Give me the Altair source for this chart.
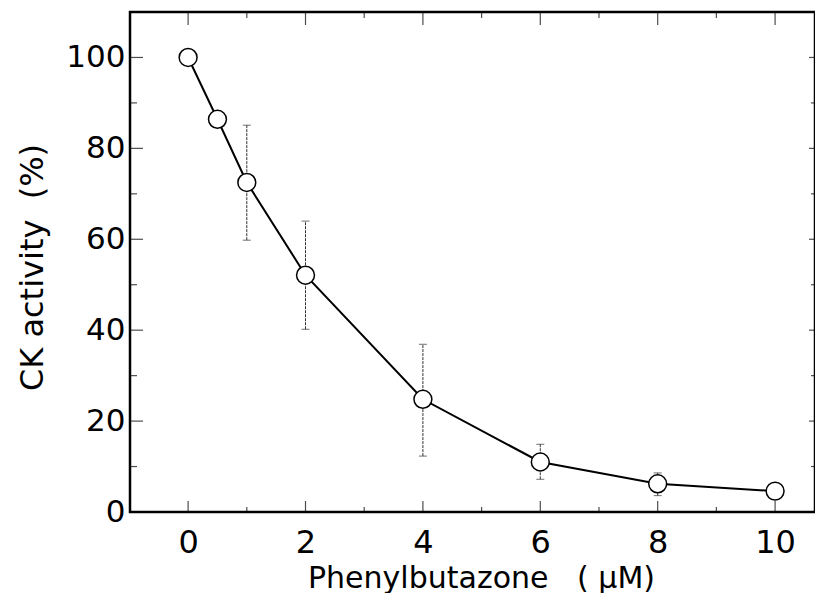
import altair as alt
import pandas as pd

# ---- data ----
conc = [0, 0.5, 1, 2, 4, 6, 8, 10]
activity = [100, 86.4, 72.5, 52.1, 24.8, 11.0, 6.2, 4.6]

err_conc = [1, 2, 4, 6, 8]
err_lo = [59.8, 40.2, 12.3, 7.2, 3.6]
err_hi = [85.1, 64.0, 36.9, 14.9, 8.6]

x_label_values = [0, 2, 4, 6, 8, 10]
x_minor_values = [1, 3, 5, 7, 9]
y_label_values = [0, 20, 40, 60, 80, 100]
y_minor_values = [10, 30, 50, 70, 90]

W, H = 685, 500
FONT = "DejaVu Sans"

df = pd.DataFrame({"conc": conc, "activity": activity})
df_err = pd.DataFrame({"conc": err_conc, "lo": err_lo, "hi": err_hi})

xscale = alt.Scale(domain=[-0.99, 10.68], nice=False, zero=False)
yscale = alt.Scale(domain=[0, 110], nice=False, zero=False)

x_axis = alt.Axis(
    values=x_label_values, format="d", ticks=False, tickSize=0, domain=False, grid=False,
    labelFont=FONT, labelFontSize=32, labelColor="black", labelBaseline="alphabetic",
    labelPadding=40, labelFlush=False,
    title="Phenylbutazone\u00a0\u00a0\u00a0(\u00a0\u03bcM)", titleFont=FONT, titleFontSize=30,
    titleFontWeight="normal", titleColor="black", titleX=351, titleY=75,
    titleBaseline="alphabetic", titleAlign="center",
)
y_axis = alt.Axis(
    values=y_label_values, format="d", ticks=False, tickSize=0, domain=False, grid=False,
    labelFont=FONT, labelFontSize=31, labelColor="black", labelPadding=5,
    labelFlush=False,
    title="CK activity\u00a0\u00a0(%)", titleFont=FONT, titleFontSize=32,
    titleFontWeight="normal", titleColor="black", titleX=-88, titleY=255,
    titleBaseline="alphabetic", titleAlign="center", titleAngle=270,
)

base = alt.Chart(df)

line = base.mark_line(color="black", strokeWidth=2).encode(
    x=alt.X("conc:Q", scale=xscale, axis=x_axis),
    y=alt.Y("activity:Q", scale=yscale, axis=y_axis),
)

errbars = alt.Chart(df_err).mark_rule(color="#333333", strokeWidth=1, strokeDash=[3, 1]).encode(
    x="conc:Q", y="lo:Q", y2="hi:Q"
)
cap_lo = alt.Chart(df_err).mark_tick(color="#333333", orient="horizontal", size=8, thickness=1).encode(
    x="conc:Q", y="lo:Q"
)
cap_hi = alt.Chart(df_err).mark_tick(color="#333333", orient="horizontal", size=8, thickness=1).encode(
    x="conc:Q", y="hi:Q"
)

points = base.mark_circle(size=320, color="white", stroke="black", strokeWidth=1.5, opacity=1).encode(
    x="conc:Q", y="activity:Q"
)


def xticks(values, edge, length):
    # edge: pixel y of the frame side; ticks point inward
    d = pd.DataFrame({"v": values})
    center = edge - length / 2 if edge > 0 else edge + length / 2
    return alt.Chart(d).mark_tick(color="black", orient="vertical", size=length, thickness=1.2).encode(
        x="v:Q", y=alt.value(center)
    )


def yticks(values, edge, length):
    d = pd.DataFrame({"v": values})
    center = edge - length / 2 if edge > 0 else edge + length / 2
    return alt.Chart(d).mark_tick(color="black", orient="horizontal", size=length, thickness=1.2).encode(
        y="v:Q", x=alt.value(center)
    )


ticks = [
    xticks(x_label_values, H, 11),
    xticks(x_minor_values, H, 5),
    xticks(x_label_values, 0, 13),
    xticks(x_minor_values, 0, 6),
    yticks(y_label_values[1:], 0, 13),
    yticks(y_minor_values, 0, 7),
    yticks(y_label_values[1:], W, 6),
    yticks(y_minor_values, W, 4),
]

chart = alt.layer(line, errbars, cap_lo, cap_hi, points, *ticks).properties(
    width=W, height=H,
    autosize=alt.AutoSizeParams(type="none"),
    padding={"left": 122, "top": 4, "right": 0, "bottom": 81},
    background="white",
).configure_view(stroke="black", strokeWidth=2.5)

chart.save("out.html", embed_options={"renderer": "svg", "actions": False})
